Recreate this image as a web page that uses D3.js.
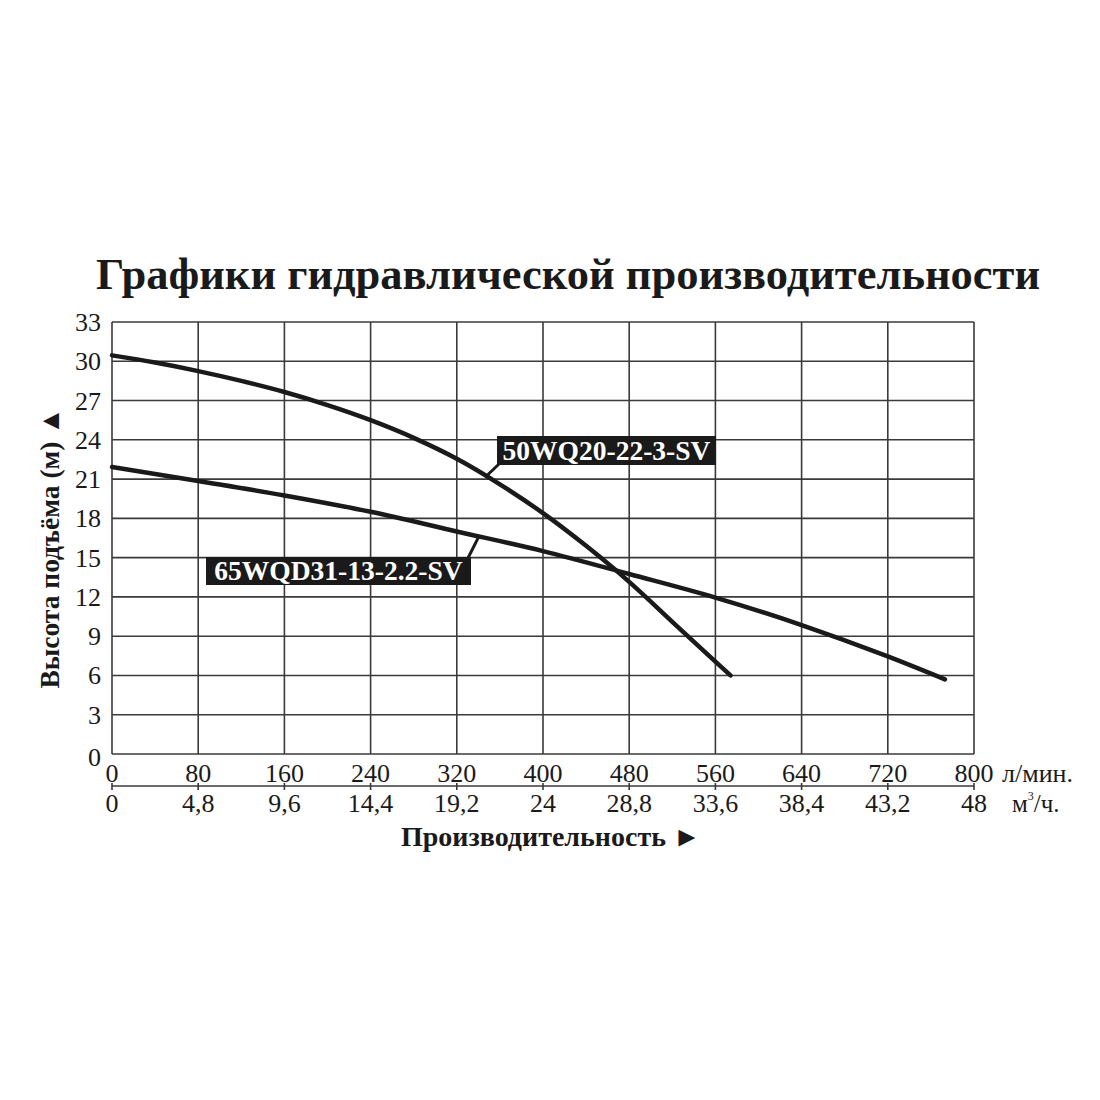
<!DOCTYPE html>
<html>
<head>
<meta charset="utf-8">
<script src="https://cdn.jsdelivr.net/npm/d3@7"></script>
<style>
  body { margin: 0; background: #fff; }
  text { font-family: "Liberation Serif", "DejaVu Serif", serif; fill: #1a1a1a; }
</style>
</head>
<body>
<svg id="chart"></svg>
<script>
// axis ticks
const flowTicks = [0, 80, 160, 240, 320, 400, 480, 560, 640, 720, 800];
const flowM3hLabels = ["0", "4,8", "9,6", "14,4", "19,2", "24", "28,8", "33,6", "38,4", "43,2", "48"];
const headTicks = [0, 3, 6, 9, 12, 15, 18, 21, 24, 27, 30, 33];

// pump 50WQ20-22-3-SV (л/мин, м)
const pump1Flow = [0, 40, 80, 120, 160, 200, 240, 280, 320, 360, 400, 440, 480, 520, 560, 574];
const pump1Head = [30.45, 29.9, 29.25, 28.5, 27.65, 26.65, 25.5, 24.15, 22.55, 20.6, 18.4, 15.9, 13.15, 10.1, 7.05, 6.0];

// pump 65WQD31-13-2.2-SV
const pump2Flow = [0, 80, 160, 240, 320, 400, 480, 560, 640, 720, 773];
const pump2Head = [21.92, 20.85, 19.75, 18.5, 17.0, 15.5, 13.75, 11.95, 9.85, 7.45, 5.7];

const pumpNames = ["50WQ20-22-3-SV", "65WQD31-13-2.2-SV"];

const W = 1100, H = 1100;
const svg = d3.select("#chart").attr("width", W).attr("height", H);

const x = d3.scaleLinear().domain([0, 800]).range([112, 974]);
const y = d3.scaleLinear().domain([0, 33]).range([754, 322]);

// title
svg.append("text")
    .attr("x", 568).attr("y", 289)
    .attr("text-anchor", "middle")
    .attr("font-size", 44.5).attr("font-weight", "bold")
    .text("Графики гидравлической производительности");

// grid
const grid = svg.append("g").attr("stroke", "#3a3a3a").attr("stroke-width", 1.6);
grid.selectAll("line.v").data(flowTicks).enter().append("line")
    .attr("x1", d => x(d)).attr("x2", d => x(d))
    .attr("y1", y(0)).attr("y2", y(33));
grid.selectAll("line.h").data(headTicks).enter().append("line")
    .attr("x1", x(0)).attr("x2", x(800))
    .attr("y1", d => y(d)).attr("y2", d => y(d));

// y tick labels
svg.append("g").selectAll("text").data(headTicks).enter().append("text")
    .attr("x", 101).attr("y", d => y(d) + 9 + (d === 0 ? 3 : 0))
    .attr("text-anchor", "end")
    .attr("font-size", 26)
    .text(d => d);

// x tick labels, л/мин
svg.append("g").selectAll("text").data(flowTicks).enter().append("text")
    .attr("x", d => x(d)).attr("y", 782)
    .attr("text-anchor", "middle")
    .attr("font-size", 26)
    .text(d => d);

// secondary scale line, м³/ч
const sec = svg.append("g").attr("stroke", "#3a3a3a").attr("stroke-width", 1.6);
sec.append("line").attr("x1", x(0)).attr("x2", x(800)).attr("y1", 786).attr("y2", 786);
sec.selectAll("line.t").data(flowTicks).enter().append("line")
    .attr("x1", d => x(d)).attr("x2", d => x(d))
    .attr("y1", 783).attr("y2", 790);

svg.append("g").selectAll("text").data(flowTicks).enter().append("text")
    .attr("x", d => x(d)).attr("y", 812)
    .attr("text-anchor", "middle")
    .attr("font-size", 26)
    .text((d, i) => flowM3hLabels[i]);

// units
svg.append("text").attr("x", 1002).attr("y", 782).attr("font-size", 26).text("л/мин.");
const m3 = svg.append("text").attr("x", 1012).attr("y", 812).attr("font-size", 25);
m3.append("tspan").text("м");
m3.append("tspan").attr("font-size", 12).attr("dy", -12).text("3");
m3.append("tspan").attr("dy", 12).text("/ч.");

// axis titles
svg.append("text")
    .attr("x", 401).attr("y", 846)
    .attr("font-size", 28).attr("font-weight", "bold")
    .text("Производительность ►");

svg.append("text")
    .attr("transform", "translate(59,548) rotate(-90)")
    .attr("text-anchor", "middle")
    .attr("font-size", 27.5).attr("font-weight", "bold")
    .text("Высота подъёма (м) ▲");

// curves
const line = d3.line()
    .x(d => x(d[0])).y(d => y(d[1]))
    .curve(d3.curveMonotoneX);

const series = [
    d3.zip(pump1Flow, pump1Head),
    d3.zip(pump2Flow, pump2Head)
];

svg.append("g").selectAll("path").data(series).enter().append("path")
    .attr("d", line)
    .attr("fill", "none")
    .attr("stroke", "#1a1a1a")
    .attr("stroke-width", 4.5)
    .attr("stroke-linecap", "round");

// labels with leaders
const labels = [
    { name: pumpNames[0], at: [347, 21.2], box: [497, 436, 219, 29], corner: [499, 464] },
    { name: pumpNames[1], at: [341, 16.7], box: [206, 557, 265, 28], corner: [468, 558] }
];

const lab = svg.append("g");
labels.forEach(l => {
    lab.append("line")
        .attr("x1", x(l.at[0])).attr("y1", y(l.at[1]))
        .attr("x2", l.corner[0]).attr("y2", l.corner[1])
        .attr("stroke", "#1a1a1a").attr("stroke-width", 3);
    lab.append("rect")
        .attr("x", l.box[0]).attr("y", l.box[1])
        .attr("width", l.box[2]).attr("height", l.box[3])
        .attr("fill", "#1a1a1a");
    lab.append("text")
        .attr("x", l.box[0] + l.box[2] / 2).attr("y", l.box[1] + l.box[3] - 5)
        .attr("text-anchor", "middle")
        .attr("font-size", 27.5).attr("font-weight", "bold")
        .style("fill", "#fff")
        .text(l.name);
});
</script>
</body>
</html>
